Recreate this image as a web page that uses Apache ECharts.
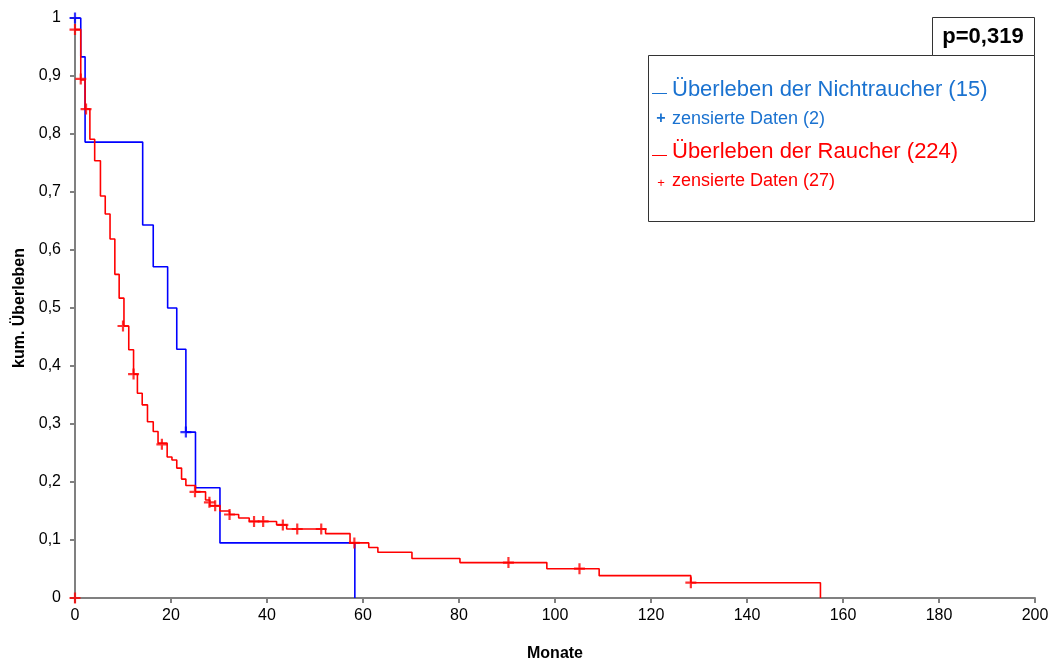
<!DOCTYPE html>
<html>
<head>
<meta charset="utf-8">
<script src="https://cdn.jsdelivr.net/npm/echarts@6/dist/echarts.min.js"></script>
<style>
html,body{margin:0;padding:0;background:#fff;}
#c{width:1053px;height:663px;}
</style>
</head>
<body>
<div id="c"></div>
<script>
// Nichtraucher (blue) step curve
const blueTimes    = [0, 1.2, 2.1, 14.1, 16.3, 19.3, 21.2, 23.1, 25.1, 30.2, 58.3];
const blueSurvival = [1, 0.933, 0.786, 0.643, 0.571, 0.5, 0.429, 0.286, 0.19, 0.095, 0];
const blueCensorTimes = [0, 23.1];
const blueCensorVals  = [1, 0.286];

// Raucher (red) step curve
const redTimes = [0, 1.2, 2.1, 3.1, 4.1, 5.3, 6.3, 7.3, 8.3, 9.2, 10.2, 11.2, 12.2, 13.0, 14.0, 15.1, 16.3, 17.3,
  19.2, 20.2, 21.2, 22.2, 23.1, 25.1, 27.2, 28.1, 30.2, 32.2, 34.1, 36.3, 42.0, 44.1, 52.2, 57.3, 61.2, 63.1,
  70.2, 80.2, 98.3, 109.2, 128.3, 155.3];
const redSurvival = [0.98, 0.893, 0.843, 0.791, 0.754, 0.693, 0.662, 0.619, 0.558, 0.517, 0.469, 0.428, 0.386, 0.353, 0.333, 0.304, 0.287, 0.267,
  0.243, 0.238, 0.224, 0.205, 0.194, 0.183, 0.169, 0.159, 0.150, 0.144, 0.138, 0.132, 0.126, 0.119, 0.111, 0.095, 0.087, 0.079,
  0.068, 0.061, 0.0505, 0.0385, 0.0264, 0];
const redCensorTimes = [0, 0, 1.2, 2.3, 10.0, 12.2, 18.1, 25.0, 28.0, 29.2, 32.2, 37.3, 39.2, 43.3, 46.3, 51.3, 58.2, 90.3, 105.1, 128.3];
const redCensorVals  = [0, 0.98, 0.895, 0.843, 0.469, 0.386, 0.265, 0.183, 0.165, 0.159, 0.144, 0.132, 0.132, 0.126, 0.119, 0.119, 0.095, 0.061, 0.0505, 0.0264];

const xTicks = {min: 0, max: 200, interval: 20};
const yTicks = {min: 0, max: 1, interval: 0.1};

const legendLabels = ['Überleben der Nichtraucher (15)', 'zensierte Daten (2)', 'Überleben der Raucher (224)', 'zensierte Daten (27)'];
const pValueLabel = 'p=0,319';

const FONT = "'Liberation Sans', Arial, sans-serif";
const zip = (a, b) => a.map((v, i) => [v, b[i]]);
const PLUS = 'path://M4,0 L6,0 L6,4 L10,4 L10,6 L6,6 L6,10 L4,10 L4,6 L0,6 L0,4 L4,4 Z';

const chart = echarts.init(document.getElementById('c'), null, {renderer: 'canvas'});
chart.setOption({
  animation: false,
  backgroundColor: '#fff',
  grid: {left: 75, right: 18, top: 18, bottom: 65, containLabel: false, outerBoundsMode: 'none'},
  xAxis: {
    type: 'value', min: xTicks.min, max: xTicks.max, interval: xTicks.interval,
    name: 'Monate', nameLocation: 'middle', nameGap: 48,
    nameTextStyle: {fontFamily: FONT, fontWeight: 'bold', fontSize: 16, color: '#000'},
    axisLine: {onZero: false, lineStyle: {color: '#808080', width: 2}},
    axisTick: {show: true, length: 5, lineStyle: {color: '#808080', width: 2}},
    axisLabel: {fontFamily: FONT, fontSize: 16, color: '#000', margin: 10},
    splitLine: {show: false}
  },
  yAxis: {
    type: 'value', min: yTicks.min, max: yTicks.max, interval: yTicks.interval,
    name: 'kum. Überleben', nameLocation: 'middle', nameGap: 46, nameRotate: 90,
    nameTextStyle: {fontFamily: FONT, fontWeight: 'bold', fontSize: 16, color: '#000'},
    axisLine: {show: true, onZero: false, lineStyle: {color: '#808080', width: 2}},
    axisTick: {show: true, length: 5, lineStyle: {color: '#808080', width: 2}},
    axisLabel: {fontFamily: FONT, fontSize: 16, color: '#000', margin: 14,
      formatter: v => {
        const r = Math.round(v * 10) / 10;
        if (r === 0) return '0';
        if (r === 1) return '1';
        return r.toFixed(1).replace('.', ',');
      }},
    splitLine: {show: false}
  },
  series: [
    {type: 'line', step: 'end', data: zip(blueTimes, blueSurvival), showSymbol: false,
     lineStyle: {color: '#0000ff', width: 1.6}, z: 3},
    {type: 'line', step: 'end', data: zip(redTimes, redSurvival), showSymbol: false,
     lineStyle: {color: '#ff0000', width: 1.6}, z: 4},
    {type: 'scatter', data: zip(blueCensorTimes, blueCensorVals), symbol: PLUS, symbolSize: 11,
     itemStyle: {color: '#0000ff'}, z: 5},
    {type: 'scatter', data: zip(redCensorTimes, redCensorVals), symbol: PLUS, symbolSize: 11,
     itemStyle: {color: '#ff0000'}, z: 6}
  ],
  graphic: [
    {type: 'rect', shape: {x: 648.5, y: 55.5, width: 386, height: 166},
     style: {fill: '#fff', stroke: '#333', lineWidth: 1}, z: 10},
    {type: 'rect', shape: {x: 932.5, y: 17.5, width: 102, height: 38},
     style: {fill: '#fff', stroke: '#333', lineWidth: 1}, z: 10},
    {type: 'text', z: 11, style: {text: pValueLabel, x: 983, y: 37, align: 'center', verticalAlign: 'middle',
      font: "bold 22px " + FONT, fill: '#000'}},
    {type: 'line', z: 11, shape: {x1: 652, y1: 93.5, x2: 667, y2: 93.5}, style: {stroke: '#1a72d0', lineWidth: 1}},
    {type: 'text', z: 11, style: {text: legendLabels[0], x: 672, y: 90, verticalAlign: 'middle',
      font: "22px " + FONT, fill: '#1a72d0'}},
    {type: 'text', z: 11, style: {text: '+', x: 661, y: 119, align: 'center', verticalAlign: 'middle',
      font: "bold 16px " + FONT, fill: '#1a72d0'}},
    {type: 'text', z: 11, style: {text: legendLabels[1], x: 672, y: 119, verticalAlign: 'middle',
      font: "18px " + FONT, fill: '#1a72d0'}},
    {type: 'line', z: 11, shape: {x1: 652, y1: 155.5, x2: 667, y2: 155.5}, style: {stroke: '#ff0000', lineWidth: 1}},
    {type: 'text', z: 11, style: {text: legendLabels[2], x: 672, y: 152, verticalAlign: 'middle',
      font: "22px " + FONT, fill: '#ff0000'}},
    {type: 'text', z: 11, style: {text: '+', x: 661, y: 183, align: 'center', verticalAlign: 'middle',
      font: "13px " + FONT, fill: '#ff0000'}},
    {type: 'text', z: 11, style: {text: legendLabels[3], x: 672, y: 181, verticalAlign: 'middle',
      font: "18px " + FONT, fill: '#ff0000'}}
  ]
});
</script>
</body>
</html>
